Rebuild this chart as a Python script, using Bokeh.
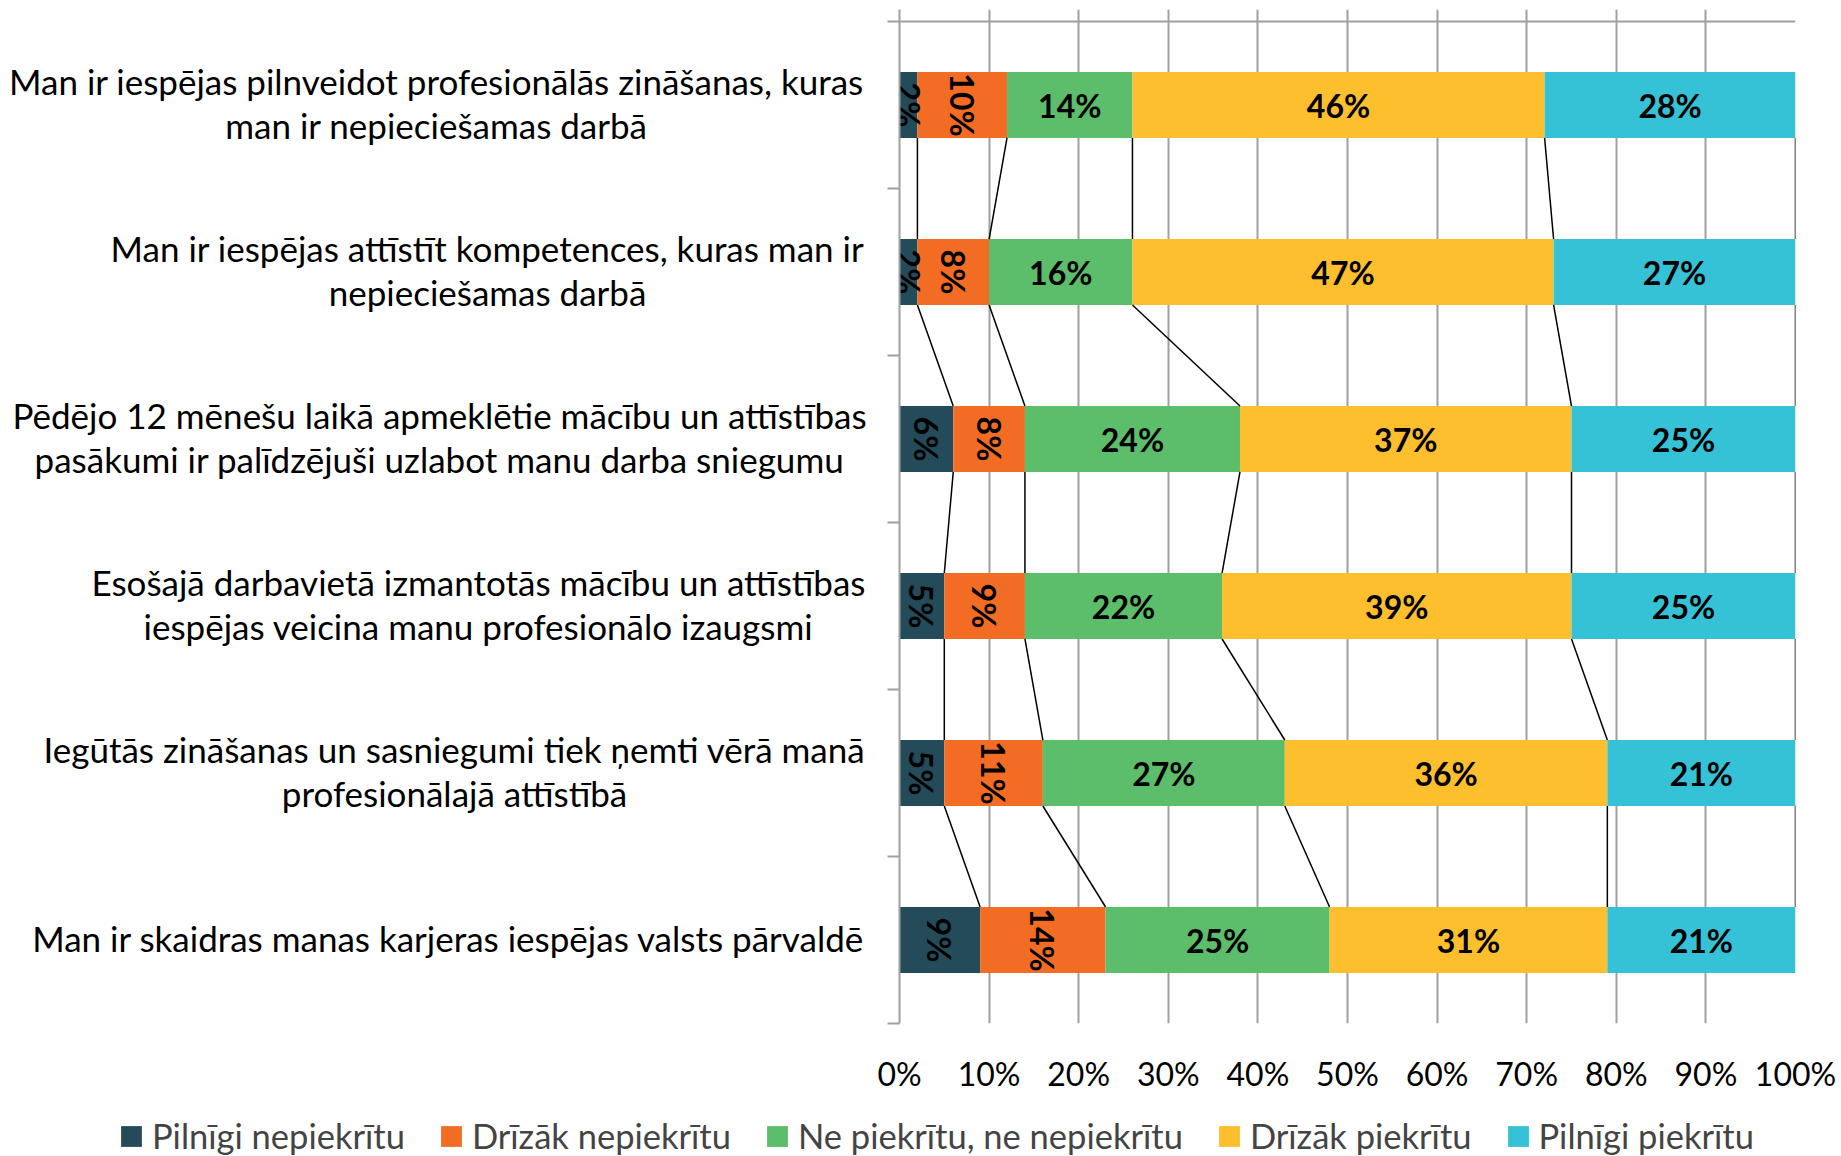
import math
from bokeh.plotting import figure
from bokeh.layouts import column, row
from bokeh.models import Range1d, FixedTicker, Legend, LegendItem, Span
from bokeh.core.properties import value
from bokeh.embed import file_html
from bokeh.resources import INLINE

# ---------------- data ----------------
categories = [
    "Man ir iespējas pilnveidot profesionālās zināšanas, kuras\nman ir nepieciešamas darbā",
    "Man ir iespējas attīstīt kompetences, kuras man ir\nnepieciešamas darbā",
    "Pēdējo 12 mēnešu laikā apmeklētie mācību un attīstības\npasākumi ir palīdzējuši uzlabot manu darba sniegumu",
    "Esošajā darbavietā izmantotās mācību un attīstības\niespējas veicina manu profesionālo izaugsmi",
    "Iegūtās zināšanas un sasniegumi tiek ņemti vērā manā\nprofesionālajā attīstībā",
    "Man ir skaidras manas karjeras iespējas valsts pārvaldē",
]
series_names = ["Pilnīgi nepiekrītu", "Drīzāk nepiekrītu", "Ne piekrītu, ne nepiekrītu",
                "Drīzāk piekrītu", "Pilnīgi piekrītu"]
pilnigi_nepiekritu = [2, 2, 6, 5, 5, 9]
drizak_nepiekritu = [10, 8, 8, 9, 11, 14]
ne_piekritu_ne_nepiekritu = [14, 16, 24, 22, 27, 25]
drizak_piekritu = [46, 47, 37, 39, 36, 31]
pilnigi_piekritu = [28, 27, 25, 25, 21, 21]
tick_values = [0, 10, 20, 30, 40, 50, 60, 70, 80, 90, 100]
tick_labels = ["0%", "10%", "20%", "30%", "40%", "50%", "60%", "70%", "80%", "90%", "100%"]

series_values = [pilnigi_nepiekritu, drizak_nepiekritu, ne_piekritu_ne_nepiekritu,
                 drizak_piekritu, pilnigi_piekritu]
colors = ["#244B5A", "#F36C24", "#5CBD6B", "#FDBF2D", "#35C2D6"]
rotated = [True, True, False, False, False]

# ---------------- layout constants ----------------
FONT = "Lato"
FS = "32px"
FS_CAT = "35px"
FS_LEG = "34.5px"
grid_color = "#A0A0A0"
n = len(categories)
bar_h = 0.395
band_px = 167.0
TOTAL_W, TOTAL_H = 1841, 1156
LABEL_W = 875
MAIN_H = 1100
LEG_H = TOTAL_H - MAIN_H
TOP, BOTTOM = 9, MAIN_H - 1023

y_range = Range1d(0, n + 12 / band_px)

# ---------------- main plot ----------------
p = figure(width=TOTAL_W - LABEL_W, height=MAIN_H,
           x_range=Range1d(0, 100), y_range=y_range,
           output_backend="svg", toolbar_location=None,
           min_border_left=899 - LABEL_W, min_border_right=TOTAL_W - 1795,
           min_border_top=TOP, min_border_bottom=BOTTOM)
p.outline_line_color = None

p.xaxis.ticker = FixedTicker(ticks=tick_values)
p.xaxis.major_label_overrides = {v: l for v, l in zip(tick_values, tick_labels)}
p.xaxis.axis_line_color = None
p.xaxis.major_tick_line_color = None
p.xaxis.minor_tick_line_color = None
p.xaxis.major_tick_out = 0
p.xaxis.major_tick_in = 0
p.xaxis.major_label_standoff = 30
p.xaxis.major_label_text_font = FONT
p.xaxis.major_label_text_font_size = FS
p.xaxis.major_label_text_color = "black"

p.yaxis.ticker = FixedTicker(ticks=list(range(n + 1)))
p.yaxis.major_label_overrides = {i: "" for i in range(n + 1)}
p.yaxis.major_label_text_font_size = "1px"
p.yaxis.major_label_standoff = 0
p.yaxis.axis_line_color = grid_color
p.yaxis.axis_line_width = 2
p.yaxis.major_tick_line_color = grid_color
p.yaxis.major_tick_line_width = 2
p.yaxis.major_tick_out = 12
p.yaxis.major_tick_in = 0
p.yaxis.minor_tick_line_color = None

p.xgrid.grid_line_color = grid_color
p.xgrid.grid_line_width = 2
p.ygrid.grid_line_color = None

p.add_layout(Span(location=n, dimension="width", line_color=grid_color, line_width=2))

y_centers = [n - i - 0.5 for i in range(n)]
cum = [[0.0] * (len(series_values) + 1) for _ in range(n)]
for i in range(n):
    for s, vals in enumerate(series_values):
        cum[i][s + 1] = cum[i][s] + vals[i]

for s, vals in enumerate(series_values):
    left = [cum[i][s] for i in range(n)]
    right = [cum[i][s + 1] for i in range(n)]
    p.hbar(y=y_centers, left=left, right=right, height=bar_h,
           fill_color=colors[s], line_color=None)

x0, y0, x1, y1 = [], [], [], []
for k in range(1, len(series_values) + 1):
    for i in range(n - 1):
        x0.append(cum[i][k]); y0.append(y_centers[i] - bar_h / 2)
        x1.append(cum[i + 1][k]); y1.append(y_centers[i + 1] + bar_h / 2)
p.segment(x0=x0, y0=y0, x1=x1, y1=y1, line_color="black", line_width=1.5)

for s, vals in enumerate(series_values):
    xs = [cum[i][s] + vals[i] / 2 for i in range(n)]
    texts = [f"{v}%" for v in vals]
    p.text(x=xs, y=y_centers, text=texts,
           angle=(-math.pi / 2 if rotated[s] else 0.0),
           text_align="center", text_baseline="middle",
           text_font=value(FONT), text_font_style="bold",
           text_font_size=FS, text_color="black")

# ---------------- category label panel (shares y scale) ----------------
pl = figure(width=LABEL_W, height=MAIN_H, x_range=Range1d(0, LABEL_W), y_range=y_range,
            output_backend="svg", toolbar_location=None,
            x_axis_location=None, y_axis_location=None,
            min_border_left=0, min_border_right=0, min_border_top=TOP, min_border_bottom=BOTTOM)
pl.outline_line_color = None
pl.grid.visible = False
label_centers_px = [436, 487, 439, 478, 454, 448]
line_gap = 44
for i, cat in enumerate(categories):
    lines = cat.split("\n")
    m = len(lines)
    for j, line in enumerate(lines):
        off = ((m - 1) / 2 - j) * line_gap + 2
        pl.text(x=[label_centers_px[i]], y=[y_centers[i]], text=[line], y_offset=-off,
                text_align="center", text_baseline="middle",
                text_font=value(FONT), text_font_size=FS_CAT, text_color="black")

# ---------------- legend panel ----------------
pg = figure(width=TOTAL_W, height=LEG_H, x_range=Range1d(0, TOTAL_W), y_range=Range1d(0, LEG_H),
            output_backend="svg", toolbar_location=None,
            x_axis_location=None, y_axis_location=None,
            min_border_left=0, min_border_right=0, min_border_top=0, min_border_bottom=0)
pg.outline_line_color = None
pg.grid.visible = False
leg_renderers = []
for s in range(len(series_values)):
    # zero-width bar: only used to give the legend its colour swatch
    leg_renderers.append(pg.hbar(y=[0], left=[0], right=[0], height=0,
                                 fill_color=colors[s], line_color=None))
legend = Legend(items=[LegendItem(label=name, renderers=[r]) for name, r in zip(series_names, leg_renderers)],
                orientation="horizontal", location=(118, 0),
                glyph_width=26, glyph_height=26, label_standoff=8, spacing=33,
                label_text_font=FONT, label_text_font_size=FS_LEG,
                padding=0, margin=0, border_line_color=None, background_fill_alpha=0)
pg.add_layout(legend)

layout = column(row(pl, p, spacing=0), pg, spacing=0)
open("out.html", "w").write(file_html(layout, INLINE))
